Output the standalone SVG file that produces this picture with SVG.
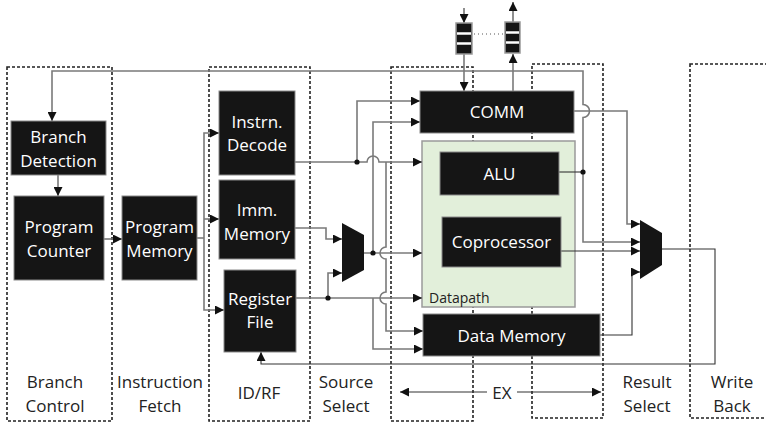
<svg xmlns="http://www.w3.org/2000/svg" width="766" height="423" viewBox="0 0 766 423">
  <style>
    .stage { fill: none; stroke: #222; stroke-width: 1.6; stroke-dasharray: 3 2; }
    .blk { fill: #151515; stroke: #8a8a8a; stroke-width: 1; }
    .lbl { font-family: "Open Sans", "Liberation Sans", sans-serif; font-size: 17px; fill: #fff; text-anchor: middle; }
    .cap { font-family: "Open Sans", "Liberation Sans", sans-serif; font-size: 17px; fill: #222; text-anchor: middle; }
    .wire { fill: none; stroke: #7a7a7a; stroke-width: 1.6; }
    .dark { fill: none; stroke: #333; stroke-width: 1.1; }
    .dot { fill: #111; }
    .mux { fill: #151515; }
    .q { fill: #151515; stroke: #999; stroke-width: 1.5; }
    .qsep { stroke: #fff; stroke-width: 2.5; }
  </style>
  <defs>
    <marker id="arr" markerUnits="userSpaceOnUse" markerWidth="9" markerHeight="9" refX="9" refY="4.5" orient="auto">
      <path d="M0,0 L9,4.5 L0,9 z" fill="#111"/>
    </marker>
  </defs>

  <!-- pipeline stage frames -->
  <g id="stages">
    <rect class="stage" x="7" y="67" width="105" height="354"/>
    <rect class="stage" x="209" y="67" width="101" height="354"/>
    <rect class="stage" x="391" y="67" width="82" height="354"/>
    <rect class="stage" x="532" y="64" width="71" height="354"/>
    <rect class="stage" x="690" y="64" width="90" height="354"/>
  </g>

  <!-- stage captions -->
  <g id="captions">
    <text class="cap" x="55" y="388">Branch</text>
    <text class="cap" x="55" y="412">Control</text>
    <text class="cap" x="160" y="388">Instruction</text>
    <text class="cap" x="160" y="412">Fetch</text>
    <text class="cap" x="259" y="399">ID/RF</text>
    <text class="cap" x="346" y="388">Source</text>
    <text class="cap" x="346" y="412">Select</text>
    <text class="cap" x="502" y="399">EX</text>
    <text class="cap" x="647" y="388">Result</text>
    <text class="cap" x="647" y="412">Select</text>
    <text class="cap" x="732" y="388">Write</text>
    <text class="cap" x="732" y="412">Back</text>
    <path class="dark" d="M487,392 H400" marker-end="url(#arr)"/>
    <path class="dark" d="M517,392 H601" marker-end="url(#arr)"/>
  </g>

  <!-- datapath container -->
  <g id="datapath">
    <rect x="422" y="141" width="153" height="166" fill="#e2efda" stroke="#9a9a9a" stroke-width="1.5"/>
    <text x="429" y="303" font-family="'Open Sans', 'Liberation Sans', sans-serif" font-size="14" fill="#222">Datapath</text>
  </g>

  <!-- connectors -->
  <g id="connectors">
    <!-- branch feedback from ALU -->
    <path class="dark" d="M559,172 H583"/>
    <path class="wire" d="M583,172 V117.5 A6.5,6.5 0 0 0 583,104.5 V71 H52 V121" marker-end="url(#arr)"/>
    <path class="wire" d="M583,172 V242 H640" marker-end="url(#arr)"/>
    <!-- result select inputs -->
    <path class="wire" d="M574,111 H627 V224 H640" marker-end="url(#arr)"/>
    <path class="dark" d="M561,251 H640" marker-end="url(#arr)"/>
    <path class="dark" d="M600,335 H632 V272 H640" marker-end="url(#arr)"/>
    <!-- write back -->
    <path class="dark" d="M662,249 H715 V364 H261 V352" marker-end="url(#arr)"/>
    <!-- fetch -->
    <path class="wire" d="M58,175 V196" marker-end="url(#arr)"/>
    <path class="wire" d="M104,239 H122" marker-end="url(#arr)"/>
    <path class="wire" d="M197,238 H204"/>
    <path class="wire" d="M204,238 V133 H219" marker-end="url(#arr)"/>
    <path class="wire" d="M204,219 H219" marker-end="url(#arr)"/>
    <path class="wire" d="M204,238 V310 H224" marker-end="url(#arr)"/>
    <!-- decode -->
    <path class="wire" d="M295,162 H367 A6,6 0 0 1 379,162 H422" marker-end="url(#arr)"/>
    <path class="wire" d="M357,162 V101 H420" marker-end="url(#arr)"/>
    <path class="wire" d="M386,162 V247 A6,6 0 0 0 386,259 V292 A6,6 0 0 0 386,304 V331 H423" marker-end="url(#arr)"/>
    <!-- source select -->
    <path class="wire" d="M295,228 H326 V239 H342" marker-end="url(#arr)"/>
    <path class="wire" d="M364,253 H422" marker-end="url(#arr)"/>
    <path class="wire" d="M373,253 V122 H420" marker-end="url(#arr)"/>
    <path class="wire" d="M296,298 H422" marker-end="url(#arr)"/>
    <path class="wire" d="M328,298 V273 H342" marker-end="url(#arr)"/>
    <path class="wire" d="M373,298 V349 H423" marker-end="url(#arr)"/>
    <!-- communication queues -->
    <path class="dark" d="M464,8 V23" marker-end="url(#arr)"/>
    <path class="wire" d="M464,54 V91" marker-end="url(#arr)"/>
    <path class="wire" d="M513,91 V54" marker-end="url(#arr)"/>
    <path class="dark" d="M513,22 V2" marker-end="url(#arr)"/>
    <path d="M474,34 H503" stroke="#555" stroke-width="1" stroke-dasharray="1 3"/>
    <circle class="dot" cx="357" cy="162" r="2.6"/>
    <circle class="dot" cx="373" cy="253" r="2.6"/>
    <circle class="dot" cx="328" cy="298" r="2.6"/>
    <circle class="dot" cx="583" cy="172" r="2.6"/>
  </g>

  <g id="queue-in">
    <rect class="q" x="456" y="23" width="16" height="31"/>
    <line class="qsep" x1="457" y1="33.5" x2="471" y2="33.5"/>
    <line class="qsep" x1="457" y1="43.5" x2="471" y2="43.5"/>
  </g>
  <g id="queue-out">
    <rect class="q" x="505" y="22" width="15" height="31"/>
    <line class="qsep" x1="506" y1="32.5" x2="519" y2="32.5"/>
    <line class="qsep" x1="506" y1="42.5" x2="519" y2="42.5"/>
  </g>

  <g id="branch-detection">
    <rect class="blk" x="11" y="121" width="95" height="54"/>
    <text class="lbl" x="58.5" y="143">Branch</text>
    <text class="lbl" x="58.5" y="167">Detection</text>
  </g>
  <g id="program-counter">
    <rect class="blk" x="14" y="196" width="90" height="84"/>
    <text class="lbl" x="59" y="233">Program</text>
    <text class="lbl" x="59" y="257">Counter</text>
  </g>
  <g id="program-memory">
    <rect class="blk" x="122" y="196" width="75" height="84"/>
    <text class="lbl" x="159.5" y="233">Program</text>
    <text class="lbl" x="159.5" y="257">Memory</text>
  </g>
  <g id="instrn-decode">
    <rect class="blk" x="219" y="91" width="76" height="84"/>
    <text class="lbl" x="257" y="128">Instrn.</text>
    <text class="lbl" x="257" y="151">Decode</text>
  </g>
  <g id="imm-memory">
    <rect class="blk" x="219" y="180" width="76" height="79"/>
    <text class="lbl" x="257" y="216">Imm.</text>
    <text class="lbl" x="257" y="240">Memory</text>
  </g>
  <g id="register-file">
    <rect class="blk" x="224" y="270" width="72" height="82"/>
    <text class="lbl" x="260" y="305">Register</text>
    <text class="lbl" x="260" y="328">File</text>
  </g>
  <g id="source-mux">
    <polygon class="mux" points="342,223 364,235 364,270 342,282"/>
  </g>
  <g id="comm">
    <rect class="blk" x="420" y="91" width="154" height="42"/>
    <text class="lbl" x="497" y="118">COMM</text>
  </g>
  <g id="alu">
    <rect class="blk" x="440" y="152" width="119" height="43"/>
    <text class="lbl" x="499.5" y="180">ALU</text>
  </g>
  <g id="coprocessor">
    <rect class="blk" x="442" y="217" width="119" height="50"/>
    <text class="lbl" x="501.5" y="248">Coprocessor</text>
  </g>
  <g id="data-memory">
    <rect class="blk" x="423" y="314" width="177" height="42"/>
    <text class="lbl" x="511.5" y="342">Data Memory</text>
  </g>
  <g id="result-mux">
    <polygon class="mux" points="640,220 662,233 662,265 640,279"/>
  </g>
</svg>
